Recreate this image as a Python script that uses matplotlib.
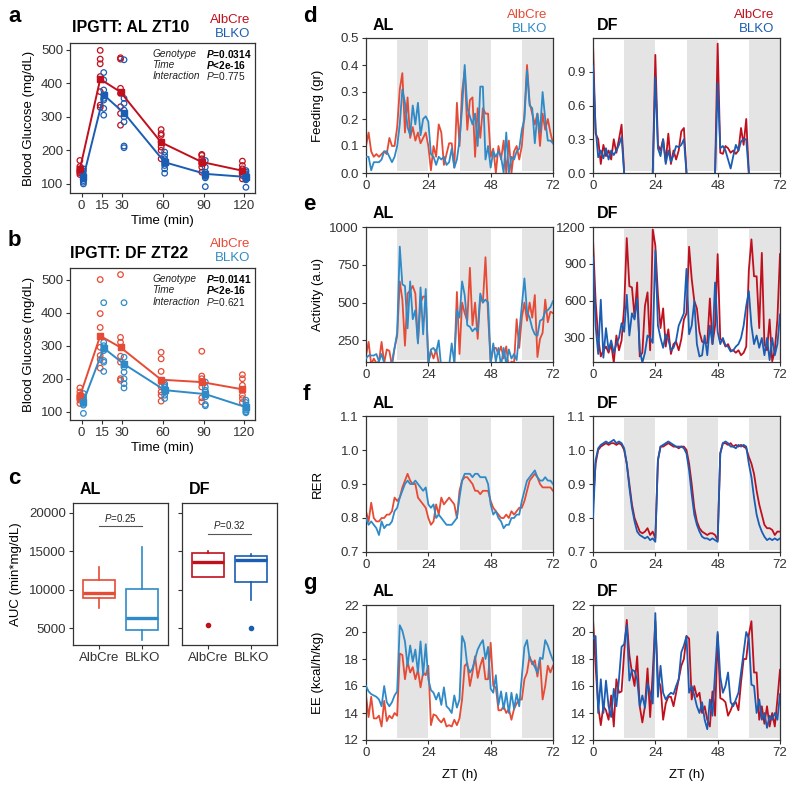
import numpy as np
import matplotlib
matplotlib.use("Agg")
import matplotlib.pyplot as plt

plt.rcParams["font.family"] = ["Liberation Sans", "DejaVu Sans"]
plt.rcParams["mathtext.fontset"] = "custom"
plt.rcParams["mathtext.rm"] = "Liberation Sans"
plt.rcParams["mathtext.it"] = "Liberation Sans:italic"
plt.rcParams["mathtext.bf"] = "Liberation Sans:bold"
plt.rcParams["mathtext.bfit"] = "Liberation Sans:italic:bold"

nan = float("nan")

# ---- IPGTT (panels a, b) ----
gtt_time = [0, 15, 30, 60, 90, 120]
gtt_al_cre = [[170, 152, 145, 140, 137, 133, 128],
              [498, 472, 458, 420, 375, 335, 328],
              [476, 472, 385, 370, 330, 310, 275],
              [262, 250, 245, 225, 210, 200, 175],
              [188, 185, 175, 165, 160, 150, 135],
              [168, 155, 145, 138, 130, 125, 115]]
gtt_al_ko = [[145, 138, 128, 120, 115, 110, 105, 100],
             [432, 410, 380, 365, 355, 350, 325, 305],
             [470, 355, 340, 320, 300, 285, 213, 208],
             [195, 185, 175, 168, 162, 155, 145, 132],
             [170, 150, 135, 128, 125, 122, 118, 92],
             [140, 135, 130, 125, 120, 115, 112, 90]]
gtt_df_cre = [[172, 160, 150, 145, 140, 135, 125],
              [500, 397, 355, 295, 270, 258, 232],
              [515, 325, 310, 268, 250, 200, 195],
              [280, 260, 222, 175, 160, 150, 132],
              [283, 208, 200, 190, 175, 142, 130],
              [212, 200, 180, 165, 150, 140, 128]]
gtt_df_ko = [[155, 145, 140, 135, 130, 125, 120, 95],
             [430, 310, 300, 290, 285, 255, 250, 222],
             [430, 265, 245, 235, 220, 200, 185, 172],
             [185, 180, 175, 168, 165, 160, 150, 140],
             [190, 175, 165, 160, 152, 145, 122, 118],
             [135, 128, 120, 115, 110, 105, 100, 97]]
p_terms = ["Genotype", "Time", "Interaction"]
p_a = ["=0.0314", "<2e-16", "=0.775"]
p_b = ["=0.0141", "<2e-16", "=0.621"]
p_bold = [True, True, False]

# ---- AUC boxplots (panel c) ----
groups = ["AlbCre", "BLKO"]
auc_al = dict(med=[9600, 6300], q1=[8900, 4750], q3=[11240, 10140],
              lo=[7660, 3510], hi=[12970, 15570], out=[[], []])
auc_df = dict(med=[13650, 13900], q1=[11600, 10980], q3=[14730, 14450],
              lo=[11600, 8720], hi=[15090, 14600], out=[[5360], [5010]])
auc_p = ["=0.25", "=0.32"]

# ---- metabolic cages (panels d-g), hourly ZT 0..72 ----
zt = np.arange(73)
dark_start = [12, 36, 60]

feed_al_cre = [0.10, 0.15, 0.08, 0.06, 0.07, 0.06, 0.07, 0.08, 0.07, 0.13, 0.10, 0.10,
               0.17, 0.31, 0.37, 0.15, 0.28, 0.13, 0.17, 0.12, 0.15, 0.11, 0.13, 0.15,
               0.10, 0.01, 0.10, 0.06, 0.18, 0.15, 0.03, 0.07, 0.11, 0.11, 0.02, 0.26,
               0.10, 0.30, 0.38, 0.16, 0.27, 0.28, 0.06, 0.24, 0.13, 0.24, 0.22, 0.22,
               0.06, 0.09, 0.00, 0.10, 0.05, 0.12, 0.00, 0.12, 0.00, 0.08, 0.10, 0.05,
               0.10, 0.22, 0.40, 0.26, 0.22, 0.18, 0.22, 0.10, 0.22, 0.16, 0.20, 0.15,
               0.11]
feed_al_ko = [0.06, 0.06, 0.01, 0.04, 0.04, 0.04, 0.05, 0.08, 0.08, 0.06, 0.04, 0.06,
              0.10, 0.18, 0.31, 0.26, 0.17, 0.14, 0.25, 0.18, 0.26, 0.14, 0.20, 0.21,
              0.19, 0.07, 0.06, 0.03, 0.06, 0.05, 0.06, 0.03, 0.04, 0.09, 0.02, 0.05,
              0.12, 0.24, 0.40, 0.24, 0.21, 0.18, 0.22, 0.10, 0.32, 0.32, 0.05, 0.10,
              0.02, 0.08, 0.06, 0.08, 0.06, 0.00, 0.15, 0.00, 0.06, 0.05, 0.08, 0.09,
              0.16, 0.20, 0.38, 0.25, 0.24, 0.11, 0.22, 0.15, 0.30, 0.20, 0.12, 0.12,
              0.11]
feed_df_cre = [1.15, 0.35, 0.30, 0.08, 0.25, 0.15, 0.20, 0.12, 0.30, 0.18, 0.30, 0.43,
               0.00, nan, nan, nan, nan, nan, nan, nan, nan, nan, nan, 0.00,
               1.05, 0.25, 0.20, 0.30, 0.10, 0.35, 0.08, 0.20, 0.12, 0.20, 0.37, 0.40,
               0.00, nan, nan, nan, nan, nan, nan, nan, nan, nan, nan, 0.00,
               1.15, 0.18, 0.17, 0.24, 0.22, 0.18, 0.20, 0.17, 0.20, 0.40, 0.25, 0.48,
               0.00, nan, nan, nan, nan, nan, nan, nan, nan, nan, nan, nan,
               nan]
feed_df_ko = [0.95, 0.40, 0.14, 0.20, 0.13, 0.22, 0.12, 0.20, 0.16, 0.20, 0.25, 0.32,
              0.00, nan, nan, nan, nan, nan, nan, nan, nan, nan, nan, 0.00,
              0.85, 0.22, 0.15, 0.30, 0.08, 0.20, 0.10, 0.16, 0.24, 0.23, 0.25, 0.30,
              0.00, nan, nan, nan, nan, nan, nan, nan, nan, nan, nan, 0.00,
              0.80, 0.22, 0.24, 0.20, 0.12, 0.04, 0.15, 0.25, 0.20, 0.28, 0.30, 0.30,
              0.00, nan, nan, nan, nan, nan, nan, nan, nan, nan, nan, nan,
              nan]

act_al_cre = [150, 240, 90, 130, 100, 110, 240, 100, 190, 180, 80, 200,
              280, 640, 520, 215, 560, 580, 610, 560, 240, 500, 540, 540,
              100, 180, 130, 190, 100, 80, 60, 90, 80, 90, 100, 570,
              160, 500, 430, 380, 730, 350, 500, 260, 540, 500, 800, 420,
              100, 200, 200, 160, 210, 130, 210, 60, 110, 100, 390, 200,
              400, 500, 380, 500, 400, 550, 140, 260, 300, 520, 370, 440,
              430]
act_al_ko = [130, 150, 150, 150, 160, 110, 160, 100, 90, 80, 110, 200,
             300, 870, 620, 610, 330, 640, 390, 450, 230, 600, 290, 590,
             100, 190, 200, 170, 250, 60, 90, 60, 80, 230, 100, 450,
             400, 640, 550, 350, 340, 310, 330, 310, 560, 500, 520, 500,
             100, 230, 110, 200, 80, 200, 90, 190, 130, 160, 120, 300,
             480, 660, 440, 400, 330, 290, 280, 380, 390, 440, 450, 470,
             510]
act_df_cre = [1100, 600, 300, 150, 200, 230, 180, 250, 100, 320, 200, 280,
              550, 1110, 720, 710, 470, 750, 150, 180, 560, 670, 200, 1180,
              1050, 650, 380, 540, 230, 370, 170, 250, 270, 200, 290, 450,
              500, 1040, 780, 600, 540, 350, 270, 260, 260, 620, 250, 400,
              980, 290, 280, 230, 250, 200, 200, 180, 200, 160, 180, 230,
              850, 1100, 800, 800, 380, 990, 250, 200, 450, 110, 200, 450,
              980]
act_df_ko = [950, 400, 170, 610, 140, 380, 200, 280, 180, 250, 300, 420,
             350, 650, 320, 500, 450, 620, 200, 100, 180, 320, 300, 260,
             1010, 400, 300, 220, 330, 290, 200, 220, 280, 400, 450, 500,
             860, 330, 400, 600, 250, 150, 160, 320, 160, 400, 250, 750,
             350, 250, 300, 240, 230, 190, 200, 230, 250, 300, 400, 560,
             680, 400, 250, 320, 220, 300, 160, 300, 120, 300, 160, 250,
             490]

rer_al_cre = [0.82, 0.79, 0.845, 0.80, 0.79, 0.79, 0.80, 0.80, 0.81, 0.81, 0.82, 0.86,
              0.85, 0.86, 0.89, 0.91, 0.93, 0.91, 0.90, 0.90, 0.86, 0.85, 0.84, 0.83,
              0.80, 0.78, 0.79, 0.84, 0.81, 0.86, 0.84, 0.85, 0.86, 0.85, 0.84, 0.80,
              0.88, 0.91, 0.92, 0.92, 0.91, 0.90, 0.88, 0.88, 0.87, 0.88, 0.88, 0.88,
              0.85, 0.83, 0.82, 0.81, 0.80, 0.80, 0.81, 0.80, 0.82, 0.81, 0.82, 0.83,
              0.83, 0.85, 0.88, 0.91, 0.92, 0.93, 0.92, 0.90, 0.89, 0.89, 0.89, 0.89,
              0.88]
rer_al_ko = [0.80, 0.78, 0.79, 0.78, 0.77, 0.75, 0.79, 0.77, 0.78, 0.78, 0.79, 0.82,
             0.83, 0.86, 0.88, 0.90, 0.91, 0.90, 0.90, 0.91, 0.90, 0.89, 0.88, 0.89,
             0.84, 0.83, 0.84, 0.80, 0.81, 0.80, 0.79, 0.78, 0.78, 0.78, 0.79, 0.80,
             0.86, 0.91, 0.93, 0.93, 0.93, 0.92, 0.93, 0.93, 0.92, 0.92, 0.92, 0.90,
             0.84, 0.81, 0.82, 0.80, 0.79, 0.77, 0.78, 0.78, 0.80, 0.80, 0.81, 0.81,
             0.85, 0.88, 0.91, 0.92, 0.93, 0.94, 0.92, 0.91, 0.91, 0.92, 0.91, 0.91,
             0.90]
rer_df_cre = [0.84, 0.96, 1.00, 1.01, 1.015, 1.02, 1.015, 1.02, 1.02, 1.015, 1.02, 1.015,
              1.00, 0.96, 0.90, 0.84, 0.80, 0.78, 0.76, 0.755, 0.76, 0.77, 0.75, 0.76,
              0.74, 0.97, 1.01, 1.01, 1.015, 1.02, 1.015, 1.01, 1.01, 1.005, 1.01, 1.01,
              1.00, 0.96, 0.90, 0.83, 0.79, 0.77, 0.76, 0.755, 0.75, 0.755, 0.755, 0.75,
              0.735, 0.99, 1.02, 1.02, 1.015, 1.02, 1.01, 1.015, 1.01, 1.015, 1.01, 1.005,
              0.98, 0.96, 0.93, 0.88, 0.84, 0.81, 0.78, 0.77, 0.77, 0.765, 0.75, 0.76,
              0.76]
rer_df_ko = [0.80, 0.97, 1.005, 1.015, 1.02, 1.025, 1.02, 1.025, 1.03, 1.02, 1.025, 1.02,
             1.005, 0.96, 0.89, 0.83, 0.79, 0.76, 0.75, 0.745, 0.74, 0.745, 0.735, 0.74,
             0.73, 0.97, 1.01, 1.015, 1.02, 1.025, 1.02, 1.015, 1.01, 1.01, 1.01, 1.005,
             0.99, 0.94, 0.87, 0.81, 0.78, 0.76, 0.745, 0.74, 0.74, 0.735, 0.74, 0.735,
             0.73, 0.99, 1.02, 1.025, 1.02, 1.01, 1.01, 1.005, 1.015, 1.01, 1.015, 1.01,
             0.96, 0.92, 0.86, 0.81, 0.78, 0.76, 0.745, 0.735, 0.74, 0.735, 0.74, 0.735,
             0.74]

ee_al_cre = [15.3, 13.7, 15.2, 13.6, 13.6, 13.8, 13.0, 14.9, 13.4, 13.8, 13.6, 14.0,
             13.8, 18.4, 18.3, 16.5, 17.8, 17.0, 17.4, 16.5, 17.2, 15.9, 17.0, 16.8,
             17.5, 13.1, 13.9, 13.8, 13.5, 13.3, 13.6, 13.0, 13.1, 13.0, 13.5, 13.1,
             13.6, 15.0, 17.5, 17.7, 16.0, 17.0, 18.2, 16.6, 17.5, 18.1, 16.5, 16.5,
             19.2, 16.0, 15.9, 14.2, 14.2, 14.5, 14.0, 14.3, 13.5, 14.3, 14.7, 15.0,
             15.0, 16.5, 17.0, 18.2, 17.6, 17.9, 16.7, 18.0, 15.0, 16.0, 17.5, 17.0,
             17.5]
ee_al_ko = [16.0, 15.6, 15.4, 15.3, 15.2, 15.0, 14.5, 16.0, 14.8, 14.5, 14.8, 15.3,
            15.6, 20.5, 20.1, 19.3, 17.5, 19.0, 17.8, 18.7, 17.0, 19.3, 16.8, 19.1,
            16.5, 15.7, 15.5, 15.0, 15.5, 14.6, 15.9, 14.5, 14.3, 14.0, 15.3, 14.4,
            15.0, 19.7, 19.2, 17.5, 17.0, 17.3, 18.0, 18.7, 19.1, 19.4, 18.0, 18.9,
            15.8, 15.5, 16.8, 14.6, 15.6, 14.3, 15.5, 14.0, 15.5, 14.3, 15.4, 14.5,
            16.7, 18.9, 19.4, 18.0, 17.8, 17.4, 17.0, 18.1, 18.0, 19.4, 19.0, 18.4,
            17.9]
ee_df_cre = [21.0, 17.5, 14.5, 13.1, 14.5, 14.2, 13.5, 15.3, 13.0, 16.5, 15.5, 15.6,
             18.5, 20.9, 18.3, 17.0, 16.0, 18.2, 14.5, 13.3, 14.5, 17.3, 13.7, 17.0,
             20.8, 16.5, 16.0, 13.5, 14.7, 15.2, 15.2, 14.5, 15.5, 16.5, 17.5, 18.0,
             19.7, 19.5, 15.0, 16.0, 15.2, 15.5, 14.0, 14.5, 13.5, 13.0, 15.6, 13.8,
             19.8, 15.1, 15.0, 14.8, 13.8, 14.2, 14.7, 14.8, 14.2, 16.3, 18.0, 18.0,
             19.8, 20.8, 17.0, 17.0, 13.5, 14.5, 13.2, 14.5, 13.0, 14.0, 13.0, 15.0,
             17.2]
ee_df_ko = [19.5, 19.7, 14.0, 16.5, 14.0, 16.4, 14.5, 13.7, 15.8, 14.5, 16.5, 18.9,
            19.1, 20.5, 16.4, 17.2, 17.1, 16.5, 14.5, 15.3, 14.4, 16.2, 15.5, 14.7,
            21.4, 15.2, 17.5, 15.5, 15.0, 15.3, 15.5, 15.4, 16.0, 16.5, 18.5, 19.0,
            19.7, 15.5, 16.0, 15.3, 14.5, 14.0, 14.8, 13.5, 12.8, 15.0, 13.8, 17.0,
            20.0, 16.7, 15.5, 16.0, 17.0, 14.8, 14.5, 15.0, 15.5, 17.0, 18.5, 20.0,
            19.5, 16.1, 16.0, 14.0, 15.0, 13.5, 14.0, 12.9, 13.8, 13.5, 14.0, 13.5,
            15.4]

AL_RED, AL_BLUE = "#E64B35", "#2F8AC8"
DF_RED, DF_BLUE = "#C0101E", "#1A5DB3"
INK = "#333333"

W, H = 800, 787
fig = plt.figure(figsize=(W / 100, H / 100), dpi=100)


def add_ax(x0, y0, x1, y1):
    return fig.add_axes([x0 / W, 1 - y1 / H, (x1 - x0) / W, (y1 - y0) / H])


def put(x, y, s, **kw):
    kw.setdefault("va", "center")
    fig.text(x / W, 1 - y / H, s, **kw)


def style(ax):
    for sp in ax.spines.values():
        sp.set_linewidth(0.9)
        sp.set_color(INK)
    ax.tick_params(direction="out", length=3, width=0.8, color=INK,
                   labelsize=9.5, labelcolor=INK, pad=2)


def legend_text(x, y, cols):
    put(x, y, "AlbCre", color=cols[0], fontsize=9.5, ha="right")
    put(x, y + 14, "BLKO", color=cols[1], fontsize=9.5, ha="right")


def ipgtt(ax, cre, ko, cols, pv, ylim):
    for vals, col, dx in ((cre, cols[0], -1.3), (ko, cols[1], 1.3)):
        means = []
        for t, v in zip(gtt_time, vals):
            ax.scatter(np.full(len(v), t + dx), v, s=16, facecolors="none",
                       edgecolors=col, linewidths=0.9, zorder=2)
            means.append(np.mean(v))
        ax.plot(np.array(gtt_time) + dx, means, color=col, lw=1.4,
                marker="s", ms=5, zorder=3)
    ax.set_xlim(-8.6, 128)
    ax.set_ylim(*ylim)
    ax.set_xticks(gtt_time)
    ax.set_yticks([100, 200, 300, 400, 500])
    ax.set_xlabel("Time (min)", fontsize=9.5, labelpad=2)
    ax.set_ylabel("Blood Glucose (mg/dL)", fontsize=9.5)
    ax.yaxis.set_label_coords(-0.19, 0.5)
    style(ax)
    for i, (term, p, b) in enumerate(zip(p_terms, pv, p_bold)):
        yy = 0.925 - i * 0.073
        ax.text(0.445, yy, term, transform=ax.transAxes, fontsize=7.3,
                style="italic", va="center", color="#222222")
        if b:
            s = r"$\mathbfit{P}$" + p
            ax.text(0.735, yy, s, transform=ax.transAxes, fontsize=7.3,
                    fontweight="bold", va="center")
        else:
            s = r"$\mathit{P}$" + p
            ax.text(0.735, yy, s, transform=ax.transAxes, fontsize=7.3,
                    va="center", color="#222222")


# panel a
ax = add_ax(70, 43, 255, 193)
ipgtt(ax, gtt_al_cre, gtt_al_ko, (DF_RED, DF_BLUE), p_a, (73, 520))
put(8, 16, "a", fontsize=16, fontweight="bold")
put(72, 28, "IPGTT: AL ZT10", fontsize=11.5, fontweight="bold")
legend_text(250, 20, (DF_RED, DF_BLUE))

# panel b
ax = add_ax(70, 268, 255, 420)
ipgtt(ax, gtt_df_cre, gtt_df_ko, (AL_RED, AL_BLUE), p_b, (75, 535))
put(8, 241, "b", fontsize=16, fontweight="bold")
put(70, 253, "IPGTT: DF ZT22", fontsize=11.5, fontweight="bold")
legend_text(250, 244, (AL_RED, AL_BLUE))

# panel c
put(8, 478, "c", fontsize=16, fontweight="bold")
for k, (auc, cols, x0, title, p) in enumerate((
        (auc_al, (AL_RED, AL_BLUE), 73, "AL", auc_p[0]),
        (auc_df, (DF_RED, DF_BLUE), 182, "DF", auc_p[1]))):
    ax = add_ax(x0, 503, x0 + 95, 645)
    stats = []
    for i in range(2):
        stats.append(dict(med=auc["med"][i], q1=auc["q1"][i], q3=auc["q3"][i],
                          whislo=auc["lo"][i], whishi=auc["hi"][i],
                          fliers=auc["out"][i]))
    bp = ax.bxp(stats, positions=[1, 2], widths=0.75, showcaps=False,
                patch_artist=True)
    for i in range(2):
        bp["boxes"][i].set(facecolor="white", edgecolor=cols[i], linewidth=1.2)
        bp["medians"][i].set(color=cols[i], linewidth=2.4)
        for w in bp["whiskers"][2 * i:2 * i + 2]:
            w.set(color=cols[i], linewidth=1.2)
        bp["fliers"][i].set(marker="o", markersize=3, markerfacecolor=cols[i],
                            markeredgecolor=cols[i])
    ax.set_xlim(0.4, 2.6)
    ax.set_ylim(2800, 21300)
    ax.set_yticks([5000, 10000, 15000, 20000])
    ax.set_xticks([1, 2])
    ax.set_xticklabels(groups)
    style(ax)
    ybar = 18250 if k == 0 else 17300
    ax.plot([1, 2], [ybar, ybar], color="#555555", lw=0.8)
    ax.text(1.5, ybar + 350, r"$\mathit{P}$" + p, ha="center", va="bottom",
            fontsize=7, color="#222222")
    if k == 0:
        ax.set_ylabel("AUC (min*mg/dL)", fontsize=9.5)
        ax.yaxis.set_label_coords(-0.54, 0.5)
    else:
        ax.set_yticklabels([])
    put(x0 + 7, 490, title, fontsize=11.5, fontweight="bold")

# panels d-g
rows = [
    ("d", 38, 173, "Feeding (gr)", (feed_al_cre, feed_al_ko, (0, 0.5), [0, 0.1, 0.2, 0.3, 0.4, 0.5]),
     (feed_df_cre, feed_df_ko, (0, 1.2), [0, 0.3, 0.6, 0.9])),
    ("e", 227, 362, "Activity (a.u)", (act_al_cre, act_al_ko, (107, 1000), [250, 500, 750, 1000]),
     (act_df_cre, act_df_ko, (105, 1200), [300, 600, 900, 1200])),
    ("f", 416, 552, "RER", (rer_al_cre, rer_al_ko, (0.7, 1.1), [0.7, 0.8, 0.9, 1.0, 1.1]),
     (rer_df_cre, rer_df_ko, (0.7, 1.1), [0.7, 0.8, 0.9, 1.0, 1.1])),
    ("g", 605, 740, "EE (kcal/h/kg)", (ee_al_cre, ee_al_ko, (12, 22), [12, 14, 16, 18, 20, 22]),
     (ee_df_cre, ee_df_ko, (12, 22), [12, 14, 16, 18, 20, 22])),
]
fmt = {"d": "{:.1f}", "e": "{:.0f}", "f": "{:.1f}", "g": "{:.0f}"}

for letter, y0, y1, ylab, al, df in rows:
    put(303, y0 - 22, letter, fontsize=16, fontweight="bold")
    for spec, x0, cols, title, tx in ((al, 366, (AL_RED, AL_BLUE), "AL", 373),
                                      (df, 593, (DF_RED, DF_BLUE), "DF", 597)):
        cre, ko, ylim, yt = spec
        ax = add_ax(x0, y0, x0 + 187, y1)
        for t0 in dark_start:
            ax.axvspan(t0, t0 + 12, ymin=0.015, ymax=0.985, color="#E4E4E4",
                       lw=0, zorder=0)
        ax.plot(zt, cre, color=cols[0], lw=1.3, zorder=2)
        ax.plot(zt, ko, color=cols[1], lw=1.3, zorder=3)
        ax.set_xlim(0, 72)
        ax.set_ylim(*ylim)
        ax.set_xticks([0, 24, 48, 72])
        ax.set_yticks(yt)
        ax.set_yticklabels([fmt[letter].format(v) for v in yt])
        style(ax)
        put(tx, y0 - 13, title, fontsize=11.5, fontweight="bold")
        if title == "AL":
            ax.set_ylabel(ylab, fontsize=9.5)
            ax.yaxis.set_label_coords(-0.225, 0.5)
        if letter == "g":
            ax.set_xlabel("ZT (h)", fontsize=9.5, labelpad=7)
        if letter == "d":
            legend_text(x0 + 181, 15, cols)

fig.savefig("out.png", dpi=100)
